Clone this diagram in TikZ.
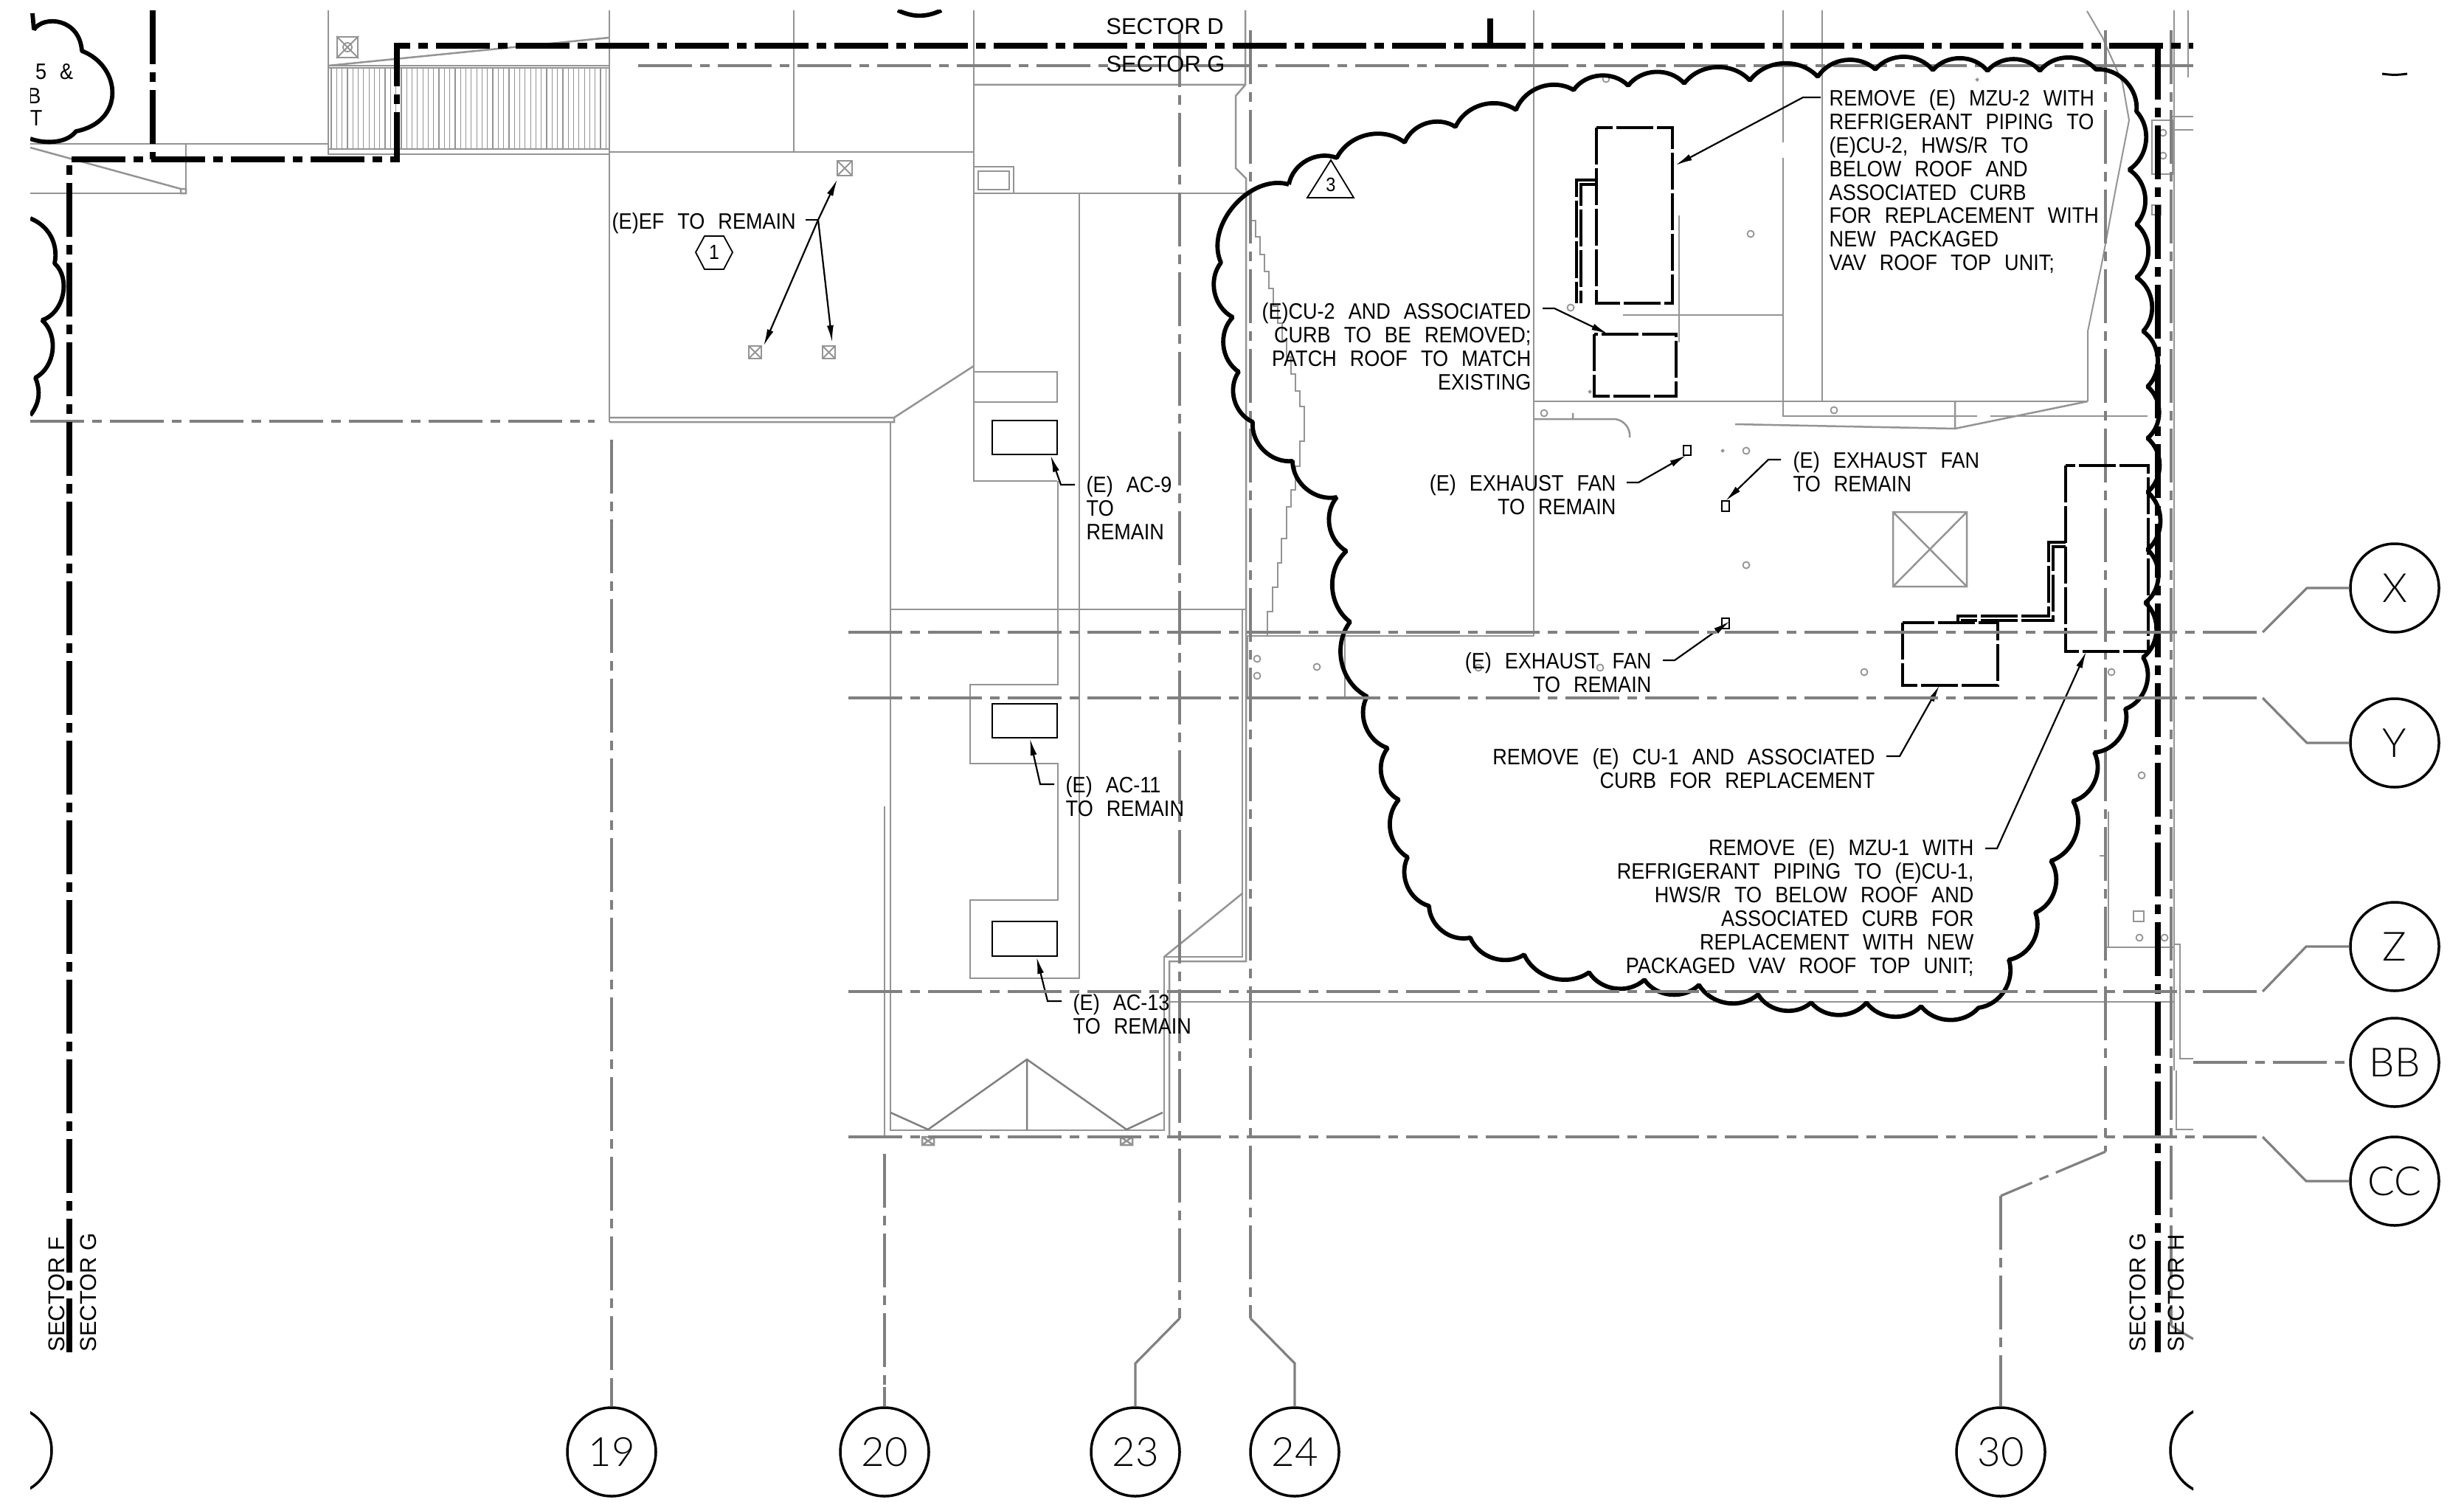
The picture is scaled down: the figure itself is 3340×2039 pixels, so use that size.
\documentclass[tikz,border=0pt]{standalone}
\usepackage{fontspec}
\setmainfont{Liberation Sans}
\newfontfamily\cadfont[FakeStretch=0.895,WordSpace=2.4]{Liberation Sans}
\newfontfamily\bubfont{Lato Light}
\usetikzlibrary{arrows.meta}
\tikzset{
 x=0.1mm,y=-0.1mm,
 grey/.style={draw=black!42,line width=0.25mm},
 greyf/.style={draw=black!42,line width=0.12mm},
 gridl/.style={draw=black!50,line width=0.32mm,dash pattern=on 7.3mm off 1.1mm on 1.3mm off 1.1mm},
 solidg/.style={draw=black!50,line width=0.32mm},
 sector/.style={draw=black,line width=0.72mm,dash pattern=on 7.3mm off 1.1mm on 1.3mm off 1.1mm},
 cloudl/.style={draw=black,line width=0.58mm,line join=bevel},
 sc/.style={bend left=50},
 demo/.style={draw=black,line width=0.38mm,dash pattern=on 5mm off 0.5mm},
 lead/.style={draw=black,line width=0.22mm,-{Latex[length=2.3mm,width=0.9mm]}},
 leadn/.style={draw=black,line width=0.22mm},
 unit/.style={draw=black,line width=0.12mm},
 lab/.style={inner sep=0pt,yshift=0.1mm,font=\cadfont\fontsize{8.6}{9.07}\selectfont},
 seclab/.style={inner sep=0pt,font=\fontsize{8.8}{10}\selectfont},
 bub/.style={circle,draw=black,line width=0.35mm,minimum size=12mm,inner sep=0pt,font=\bubfont\fontsize{15.5}{17}\selectfont},
 markl/.style={draw=black!42,line width=0.18mm},
}
\begin{document}
\begin{tikzpicture}
\useasboundingbox (0,0) rectangle (3340,2039);
\fill[white] (0,0) rectangle (3340,2039);
\begin{scope}
\clip (41,14) rectangle (2973,2039);
% --- building outlines, left
\draw[grey] (445,14) -- (445,209) (41,195) -- (445,195);
\draw[grey] (41,200) -- (245,256) (245,256) rectangle (252,262);
\draw[grey] (41,262) -- (252,262) -- (252,195);
\draw[grey] (445,89) rectangle (826,209) (445,92) -- (826,92) (445,202) -- (826,202);
\draw[grey] (445,89) -- (826,51);
\foreach \i in {0,...,51} \draw[greyf] (449+7.3*\i,92) -- (449+7.3*\i,202);
\node[inner sep=0pt,minimum width=2.8mm,minimum height=2.8mm,draw=black!42,line width=0.2mm] (topfan) at (471,64) {};
\draw[markl] (topfan.north west) -- (topfan.south east) (topfan.north east) -- (topfan.south west);
\draw[markl] (471,64) circle (6);
\draw[grey] (826,14) -- (826,572) (1076,14) -- (1076,206) (826,206) -- (1320,206);
\draw[grey] (826,566) -- (1212,566) (826,572) -- (1212,572) -- (1212,566) -- (1320,496);
\draw[grey] (1320,14) -- (1320,652) -- (1433,652);
\draw[grey] (1320,115) -- (1688,115) (1688,14) -- (1688,115) -- (1675,130) -- (1675,228) -- (1689,242) -- (1689,1303) -- (1585,1303) -- (1585,1541);
\draw[grey] (1684,826) -- (1684,1297) -- (1578,1297) -- (1578,1532) -- (1207,1532) -- (1207,572);
\draw[grey] (1684,1211) -- (1578,1297);
\draw[grey] (1320,262) -- (1690,262) (1320,226) rectangle (1374,262) (1326,232) rectangle (1368,257);
\draw[grey] (1463,262) -- (1463,1326) -- (1315,1326) -- (1315,1220) -- (1434,1220) -- (1434,1035) -- (1315,1035) -- (1315,928) -- (1434,928) -- (1434,652);
\draw[grey] (1320,504) rectangle (1433,545);
\draw[grey] (1207,826) -- (1689,826);
\draw[grey] (1199,1093) -- (1199,1540);
\draw[solidg,line width=0.25mm] (1207,1508) -- (1258,1531) -- (1392,1436) -- (1527,1531) -- (1576,1508) (1392,1436) -- (1392,1532);
\draw[grey] (1250,1541) rectangle (1266,1552) (1250,1541) -- (1266,1552) (1266,1541) -- (1250,1552);
\draw[grey] (1519,1541) rectangle (1535,1552) (1519,1541) -- (1535,1552) (1535,1541) -- (1519,1552);
\draw[grey] (1585,1358) -- (2948,1358);
% staircase
\draw[grey] (1696,299) -- (1702,299) -- (1702,321) -- (1708,321) -- (1708,345) -- (1714,345) -- (1714,368) -- (1720,368) -- (1720,391) -- (1726,391) -- (1726,415) -- (1732,415) -- (1732,438) -- (1738,438) -- (1738,461) -- (1744,461) -- (1744,484) -- (1750,484) -- (1750,507) -- (1756,507) -- (1756,530) -- (1762,530) -- (1762,551) -- (1768,551) -- (1768,598) -- (1762,598) -- (1762,632) -- (1756,632) -- (1756,664) -- (1750,664) -- (1750,687) -- (1744,687) -- (1744,730) -- (1737,730) -- (1737,763) -- (1732,763) -- (1732,796) -- (1725,796) -- (1725,829) -- (1718,829) -- (1718,862);
\draw[grey] (1689,862) -- (2079,862) (1823,862) -- (1823,946) (1691,861) -- (1691,947);
% --- building outlines, right
\draw[grey] (2079,14) -- (2079,862) (2470,14) -- (2470,544) (2079,544) -- (2830,544);
\draw[grey] (2417,14) -- (2417,193) (2417,214) -- (2417,564) -- (2680,564) (2698,564) -- (2911,564);
\draw[grey] (2200,427) -- (2417,427) (2276,292) -- (2276,464);
\draw[grey] (2352,575) -- (2650,581) -- (2830,544) (2650,544) -- (2650,581);
\draw[greyf,line width=0.2mm] (2829,15) -- (2850,51) -- (2877,112) -- (2886,163) -- (2868,255) -- (2850,352) -- (2830,449) -- (2830,544);
\draw[grey] (2079,568) -- (2189,568) to[bend left=45] (2209,593) (2132,560) -- (2132,568);
\draw[grey] (2566,694) rectangle (2666,795) (2566,694) -- (2666,795) (2666,694) -- (2566,795);
\foreach \p in {(2093,560),(2486,556),(2373,317),(2129,417),(2367,611),(2367,766),(2177,107),(1704,893),(1704,916),(1785,904),(2004,905),(2169,905),(2527,911),(2862,911),(2903,1051),(2900,1271),(2934,1271),(2932,180),(2932,211)}
  \draw[markl] \p circle (4.5);
\foreach \p in {(2155,531),(2335,611),(2680,108)} \draw[markl] \p circle (1.5);
\draw[markl] (2892,1235) rectangle (2906,1249);
\draw[grey] (2917,163) rectangle (2945,236) (2917,278) rectangle (2929,291) (2945,158) -- (2973,158) (2945,176) -- (2973,176);
\draw[grey] (2966,14) -- (2966,105);
\draw[grey] (2947,14) -- (2947,1451) (2854,1284) -- (2947,1284) (2947,1280) -- (2955,1280) -- (2955,1435) -- (2973,1435);
\draw[grey] (2950,1451) -- (2950,1531) -- (2973,1531);
\draw[grey] (2858,1100) -- (2858,1284) (2846,1160) -- (2854,1160);
% --- vertical grid lines
\draw[gridl] (829,596) -- (829,1906);
\draw[gridl] (1199,1564) -- (1199,1906);
\draw[gridl] (1599,45) -- (1599,1787);
\draw[gridl] (1695,41) -- (1695,1787);
\draw[gridl] (2854,41) -- (2854,1561);
\draw[gridl] (2712,1621) -- (2712,1906);
\draw[gridl] (2943,41) -- (2943,1797);
\draw[solidg] (2943,1797) -- (2973,1815);
\draw[gridl] (41,571) -- (806,571);
\draw[gridl] (865,89) -- (2973,89);
% --- sector boundary
\draw[sector] (94,1833) -- (94,216) -- (538,216) -- (538,62) -- (2973,62);
\draw[sector] (207,14) -- (207,216);
\draw[draw=black,line width=0.72mm] (2020,25) -- (2020,62);
\draw[sector] (2925,62) -- (2925,1833);
% --- cloud fragments
\draw[cloudl] (44,18) -- (46,40) .. controls (60,20) and (108,25) .. (111,69) .. controls (165,90) and (170,165) .. (103,178) .. controls (90,195) and (60,195) .. (41,188);
\draw[cloudl] (41,296) to[bend left=40] (74,357) to[bend left=60] (57,434) to[bend left=55] (48,512) to[bend left=30] (41,563);
\draw[cloudl] (1217,14) to[bend right=25] (1276,14);
\node[lab,anchor=north east] (f1) at (100,87) {5 \&};
\node[lab,anchor=north east] (f2) at (56,120) {B};
\node[lab,anchor=north east] (f3) at (58,150) {T};
% --- revision cloud
\draw[cloudl] (1747,250) to[sc] (1812,214) to[sc] (1904,193) to[sc] (1973,172) to[sc] (2055,149) to[sc] (2133,122) to[sc] (2207,116) to[sc] (2283,113) to[sc] (2372,109) to[sc] (2464,104) to[sc] (2542,94) to[sc] (2620,95) to[sc] (2694,96) to[sc] (2765,96) to[sc] (2841,94) to[sc] (2896,151) to[sc] (2886,230) to[sc] (2896,304) to[sc] (2896,376) to[sc] (2905,449) to[sc] (2911,524) to[sc] (2911,594) to[sc] (2911,667) to[sc] (2911,745) to[sc] (2908,817) to[sc] (2905,891) to[sc] (2881,961) to[sc] (2839,1020) to[sc] (2810,1086) to[sc] (2780,1167) to[sc] (2759,1237) to[sc] (2723,1301) to[sc] (2682,1366) to[sc] (2604,1364) to[sc] (2530,1359) to[sc] (2455,1359) to[sc] (2383,1348) to[sc] (2303,1335) to[sc] (2229,1328) to[sc] (2154,1318) to[sc] (2066,1294) to[sc] (1993,1271) to[sc] (1937,1228) to[sc] (1908,1162) to[sc] (1896,1084) to[sc] (1881,1014) to[sc] (1853,944) to[sc] (1830,843) to[sc] (1825,747) to[sc] (1812,674) to[sc] (1752,625) to[sc] (1698,572) to[sc] (1679,504) to[sc] (1671,430) to[sc] (1655,356) to[bend left=65] (1747,250);
% --- units
\draw[unit] (1345,570) rectangle (1433,616);
\draw[unit] (1345,954) rectangle (1433,1000);
\draw[unit] (1345,1249) rectangle (1433,1296);
\foreach \x/\y/\w in {1135/218/20,1015/469/17,1115/469/17}{
  \draw[markl] (\x,\y) rectangle (\x+\w,\y+\w);
  \draw[markl] (\x,\y) -- (\x+\w,\y+\w) (\x+\w,\y) -- (\x,\y+\w);
}
\draw[unit] (2282,604) rectangle (2292,617);
\draw[unit] (2334,679) rectangle (2344,693);
\draw[unit] (2334,838) rectangle (2344,852);
% --- demolished equipment
\draw[demo] (2164,173) rectangle (2267,411);
\draw[demo] (2161,453) rectangle (2272,537);
\draw[demo] (2800,631) rectangle (2912,883);
\draw[demo] (2579,844) rectangle (2708,929);
\draw[demo,line width=0.36mm] (2164,244) -- (2137,244) -- (2137,411) (2164,250) -- (2143,250) -- (2143,411);
\draw[demo,line width=0.36mm] (2800,735) -- (2777,735) -- (2777,835) -- (2654,835) -- (2654,844) (2800,741) -- (2783,741) -- (2783,841) -- (2660,841) -- (2660,844);
% --- leaders
\draw[leadn] (1092,298) -- (1109,298);
\draw[lead] (1109,298) -- (1135,243);
\draw[lead] (1109,298) -- (1035,469);
\draw[lead] (1109,298) -- (1128,464);
\draw[lead] (2468,132) -- (2444,132) -- (2271,224);
\draw[lead] (2091,418) -- (2107,418) -- (2180,453);
\draw[lead] (2205,654) -- (2221,654) -- (2286,617);
\draw[lead] (2414,623) -- (2397,623) -- (2339,679);
\draw[lead] (2254,895) -- (2270,895) -- (2345,842);
\draw[lead] (2557,1025) -- (2575,1025) -- (2629,929);
\draw[lead] (2691,1150) -- (2707,1150) -- (2828,883);
\draw[lead] (1457,657) -- (1438,657) -- (1424,617);
\draw[lead] (1429,1063) -- (1410,1063) -- (1396,1001);
\draw[lead] (1439,1357) -- (1420,1357) -- (1405,1297);
% --- texts
\node[lab,anchor=north west] (ef) at (829,289) {(E)EF TO REMAIN};
\node[lab,anchor=north west,align=left] (ac9) at (1472,646) {(E) AC-9\\TO\\REMAIN};
\node[lab,anchor=north west,align=left] (ac11) at (1444,1053) {(E) AC-11\\TO REMAIN};
\node[lab,anchor=north west,align=left] (ac13) at (1454,1348) {(E) AC-13\\TO REMAIN};
\node[lab,anchor=north west,align=left] (mzu2) at (2479,122) {REMOVE (E) MZU-2 WITH\\REFRIGERANT PIPING TO\\(E)CU-2, HWS/R TO\\BELOW ROOF AND\\ASSOCIATED CURB\\FOR REPLACEMENT WITH\\NEW PACKAGED\\VAV ROOF TOP UNIT;};
\node[lab,anchor=north east,align=right] (cu2) at (2076,411) {(E)CU-2 AND ASSOCIATED\\CURB TO BE REMOVED;\\PATCH ROOF TO MATCH\\EXISTING};
\node[lab,anchor=north east,align=right] (fan1) at (2191,644) {(E) EXHAUST FAN\\TO REMAIN};
\node[lab,anchor=north west,align=left] (fan2) at (2430,613) {(E) EXHAUST FAN\\TO REMAIN};
\node[lab,anchor=north east,align=right] (fan3) at (2239,885) {(E) EXHAUST FAN\\TO REMAIN};
\node[lab,anchor=north east,align=right] (cu1) at (2542,1015) {REMOVE (E) CU-1 AND ASSOCIATED\\CURB FOR REPLACEMENT};
\node[lab,anchor=north east,align=right] (mzu1) at (2676,1138) {REMOVE (E) MZU-1 WITH\\REFRIGERANT PIPING TO (E)CU-1,\\HWS/R TO BELOW ROOF AND\\ASSOCIATED CURB FOR\\REPLACEMENT WITH NEW\\PACKAGED VAV ROOF TOP UNIT;};
\node[seclab,anchor=base] (sd) at (1579,47) {SECTOR D};
\node[seclab,anchor=base] (sg) at (1580,98) {SECTOR G};
\node[seclab,rotate=90,anchor=west] (sf) at (77,1833) {SECTOR F};
\node[seclab,rotate=90,anchor=west] (sg2) at (120,1833) {SECTOR G};
\node[seclab,rotate=90,anchor=west] (sg3) at (2898,1833) {SECTOR G};
\node[seclab,rotate=90,anchor=west] (sh) at (2950,1833) {SECTOR H};
% hexagon and triangle tags
\node[inner sep=0pt,font=\cadfont\fontsize{7.9}{9}\selectfont] (hex) at (968,342) {1};
\draw[draw=black,line width=0.18mm] (943,342) -- (955,320) -- (981,320) -- (993,342) -- (981,365) -- (955,365) -- cycle;
\node[inner sep=0pt,font=\cadfont\fontsize{7.5}{9}\selectfont] (tri) at (1804,250) {3};
\draw[draw=black,line width=0.18mm] (1804,217) -- (1772,268) -- (1835,268) -- cycle;
% bubbles
\node[bub] (c19) at (829,1968) {19};
\node[bub] (c20) at (1199,1968) {20};
\node[bub] (c23) at (1539,1968) {23};
\node[bub] (c24) at (1755,1968) {24};
\node[bub] (c30) at (2712,1968) {30};
\node[bub] (cl) at (10,1966) {};
\node[bub] (cr) at (3002,1966) {};
\draw[solidg] (829,1880) -- (c19.north);
\draw[solidg] (1199,1880) -- (c20.north);
\draw[solidg] (2712,1880) -- (c30.north);
\draw[solidg] (1599,1787) -- (1539,1848) -- (c23.north);
\draw[solidg] (1695,1787) -- (1755,1848) -- (c24.north);
\draw[gridl] (2854,1561) -- (2712,1621);
\end{scope}
% --- horizontal grid lines and right bubbles
\draw[draw=black,line width=0.3mm] (3229,100) to[bend right=8] (3263,100);
\node[bub] (cx) at (3246,797) {X};
\node[bub] (cy) at (3246,1007) {Y};
\node[bub] (cz) at (3246,1283) {Z};
\node[bub] (cbb) at (3246,1440) {BB};
\node[bub] (ccc) at (3246,1601) {CC};
\draw[gridl] (1150,857) -- (3067,857);
\draw[solidg] (3067,857) -- (3127,797) -- (cx.west);
\draw[gridl] (1150,946) -- (3067,946);
\draw[solidg] (3067,946) -- (3127,1007) -- (cy.west);
\draw[gridl] (1150,1344) -- (3067,1344);
\draw[solidg] (3067,1344) -- (3126,1283) -- (cz.west);
\draw[gridl] (2973,1440) -- (cbb.west);
\draw[gridl] (1150,1541) -- (3067,1541);
\draw[solidg] (3067,1541) -- (3126,1601) -- (ccc.west);
\end{tikzpicture}
\end{document}
